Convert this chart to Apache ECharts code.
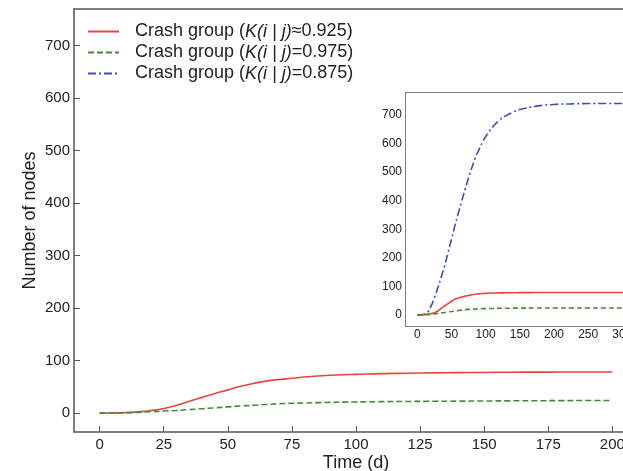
<!DOCTYPE html>
<html>
<head>
<meta charset="utf-8">
<script src="https://cdn.jsdelivr.net/npm/echarts@6/dist/echarts.min.js"></script>
<style>
  html, body { margin: 0; padding: 0; background: #fff; }
  #chart { width: 623px; height: 471px; }
</style>
</head>
<body>
<div id="chart"></div>
<script>
// main chart, time 0..200 d
var mainTime = [0, 5, 10, 15, 20, 25, 30, 35, 40, 45, 50, 55, 60, 65, 70, 75, 80, 85, 90, 95, 100, 110, 120, 130, 140, 150, 160, 170, 180, 190, 200];
var mainRed = [0, 0.3, 0.9, 2.4, 4.9, 8.8, 15, 22.5, 30, 37.5, 44.3, 51, 56.5, 61, 64, 66.3, 68.8, 70.7, 72, 73, 73.8, 75.3, 76, 76.6, 77.1, 77.5, 77.9, 78.1, 78.2, 78.3, 78.4];
var mainGreen = [0, 0.1, 0.5, 1.4, 2.6, 3.9, 5.1, 6.7, 8.3, 10.1, 11.9, 13.6, 15, 16.4, 17.8, 18.7, 19.3, 19.9, 20.4, 20.9, 21.3, 21.8, 22.2, 22.5, 22.8, 23.1, 23.4, 23.6, 23.8, 24, 24.1];

// inset, time 0..320 d
var insetTime = [0, 5, 10, 15, 20, 25, 30, 35, 40, 45, 50, 55, 60, 65, 70, 75, 80, 85, 90, 95, 100, 110, 120, 130, 140, 150, 175, 200, 225, 250, 275, 300, 320];
var insetBlue = [0, 1, 3, 9, 30, 60, 95, 133, 172, 218, 265, 312, 356, 398, 440, 480, 517, 550, 578, 603, 624, 657, 681, 698, 710, 719, 731, 737, 739, 740, 740, 740, 740];
var insetRed = [0, 0.3, 1, 2.5, 4.5, 8, 14, 23, 32, 40, 48, 55, 59.5, 62.5, 66, 68.5, 71, 72.8, 74, 75, 75.8, 76.8, 77.3, 77.7, 78, 78.2, 78.5, 78.6, 78.7, 78.7, 78.7, 78.7, 78.7];
var insetGreen = [0, 0.1, 0.5, 1.4, 2.6, 4, 5.5, 7.2, 9, 10.8, 12.5, 14.2, 15.8, 17.2, 18.5, 19.6, 20.4, 21, 21.6, 22, 22.4, 23, 23.4, 23.7, 23.9, 24.1, 24.3, 24.4, 24.5, 24.5, 24.5, 24.5, 24.5];

var mainXTicks = [0, 25, 50, 75, 100, 125, 150, 175, 200];
var mainYTicks = [0, 100, 200, 300, 400, 500, 600, 700];
var insetXTicks = [0, 50, 100, 150, 200, 250, 300];
var insetYTicks = [0, 100, 200, 300, 400, 500, 600, 700];

var nameRed = 'Crash group (K(i | j)≈0.925)';
var nameGreen = 'Crash group (K(i | j)=0.975)';
var nameBlue = 'Crash group (K(i | j)=0.875)';

var RED = '#e8463c', GREEN = '#46893b', BLUE = '#3d50b2';
var AXIS = '#555';
var FONT = '"Liberation Sans", Arial, sans-serif';

function pairs(xs, ys) {
    return xs.map(function (x, i) { return [x, ys[i]]; });
}

function valueAxis(opt) {
    var ax = {
        type: 'value',
        gridIndex: opt.grid,
        min: opt.min,
        max: opt.max,
        position: opt.position,
        splitLine: { show: false },
        axisLine: { show: true, onZero: false, lineStyle: { color: AXIS, width: 1.5 } },
        axisTick: { show: false },
        axisLabel: { show: false }
    };
    if (opt.ticks) {
        ax.axisTick = { show: true, inside: true, length: 6, customValues: opt.ticks, lineStyle: { color: AXIS, width: 1 } };
        ax.axisLabel = { show: true, customValues: opt.ticks, margin: opt.margin, color: '#222', fontSize: opt.fontSize, fontFamily: FONT };
    }
    if (opt.name) {
        ax.name = opt.name;
        ax.nameLocation = 'middle';
        ax.nameGap = opt.nameGap;
        ax.nameMoveOverlap = false;
        ax.nameTextStyle = { fontSize: 18, color: '#222', fontFamily: FONT };
    }
    return ax;
}

var myChart = echarts.init(document.getElementById('chart'));

var option = {
    animation: false,
    grid: [
        { left: 74, top: 9, width: 564, height: 423, outerBoundsMode: 'none', containLabel: false },
        { left: 406, top: 93, width: 230, height: 233, outerBoundsMode: 'none', containLabel: false, show: true, backgroundColor: '#fff', borderWidth: 0, z: 5 }
    ],
    legend: {
        orient: 'vertical',
        left: 87,
        top: 21,
        padding: 0,
        itemWidth: 31,
        itemHeight: 12,
        itemGap: 0,
        itemStyle: { opacity: 0 },
        data: [nameRed, nameGreen, nameBlue],
        formatter: function (name) {
            var parts = name.split('K(i | j)');
            return '{n0|' + parts[0] + '}{i|K(i | j)}{n|' + parts[1] + '}';
        },
        textStyle: {
            fontFamily: FONT,
            fontSize: 18,
            color: '#222',
            lineHeight: 21,
            rich: {
                n0: { fontSize: 18, fontFamily: FONT, color: '#222', padding: [0, 0, 0, 11] },
                i: { fontSize: 18, fontFamily: FONT, color: '#222', fontStyle: 'italic' },
                n: { fontSize: 18, fontFamily: FONT, color: '#222' }
            }
        }
    },
    xAxis: [
        valueAxis({ grid: 0, min: -10, max: 210, ticks: mainXTicks, margin: 5, fontSize: 15, name: 'Time (d)', nameGap: 22 }),
        valueAxis({ grid: 0, min: -10, max: 210, position: 'top' }),
        valueAxis({ grid: 1, min: -16.5, max: 320, ticks: insetXTicks, margin: 3, fontSize: 12 }),
        valueAxis({ grid: 1, min: -16.5, max: 320, position: 'top' })
    ],
    yAxis: [
        valueAxis({ grid: 0, min: -36, max: 770, ticks: mainYTicks, margin: 4, fontSize: 15, name: 'Number of nodes', nameGap: 35 }),
        valueAxis({ grid: 1, min: -38.5, max: 777, ticks: insetYTicks, margin: 4, fontSize: 12 })
    ],
    series: [
        {
            name: nameRed, type: 'line', xAxisIndex: 0, yAxisIndex: 0, symbol: 'none', smooth: true,
            lineStyle: { color: RED, width: 1.6 }, itemStyle: { color: RED },
            data: pairs(mainTime, mainRed)
        },
        {
            name: nameGreen, type: 'line', xAxisIndex: 0, yAxisIndex: 0, symbol: 'none', smooth: true,
            lineStyle: { color: GREEN, width: 1.6, type: [6, 3] }, itemStyle: { color: GREEN },
            data: pairs(mainTime, mainGreen)
        },
        {
            name: nameBlue, type: 'line', xAxisIndex: 2, yAxisIndex: 1, symbol: 'none', smooth: true, z: 6,
            lineStyle: { color: BLUE, width: 1.6, type: [8, 3, 2, 3] }, itemStyle: { color: BLUE },
            data: pairs(insetTime, insetBlue)
        },
        {
            name: nameRed, type: 'line', xAxisIndex: 2, yAxisIndex: 1, symbol: 'none', smooth: true, z: 6,
            lineStyle: { color: RED, width: 1.6 }, itemStyle: { color: RED },
            data: pairs(insetTime, insetRed)
        },
        {
            name: nameGreen, type: 'line', xAxisIndex: 2, yAxisIndex: 1, symbol: 'none', smooth: true, z: 6,
            lineStyle: { color: GREEN, width: 1.6, type: [5, 3] }, itemStyle: { color: GREEN },
            data: pairs(insetTime, insetGreen)
        }
    ]
};

myChart.setOption(option);
</script>
</body>
</html>
